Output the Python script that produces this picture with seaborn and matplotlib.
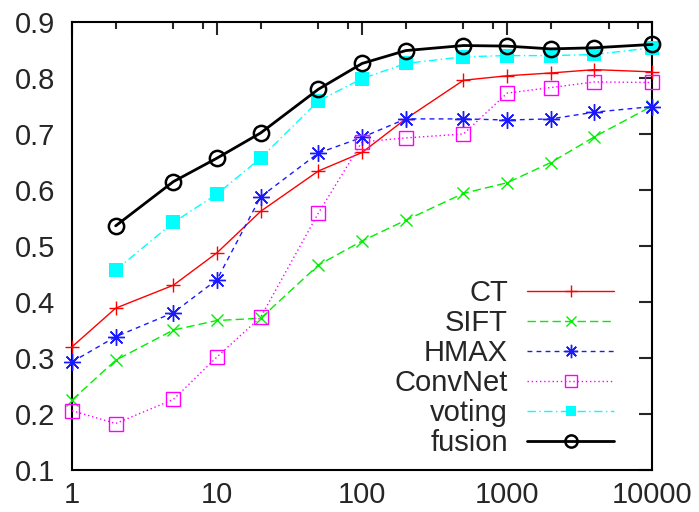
import matplotlib
matplotlib.use("Agg")
import matplotlib.pyplot as plt
import seaborn as sns
from matplotlib.ticker import LogLocator, NullFormatter, FixedLocator, FixedFormatter

# Dados
x_all = [1, 2, 5, 10, 20, 50, 100, 200, 500, 1000, 2000, 4000, 10000]
x_comb = [2, 5, 10, 20, 50, 100, 200, 500, 1000, 2000, 4000, 10000]

ct = [0.320, 0.389, 0.430, 0.488, 0.562, 0.634, 0.667, 0.727, 0.796, 0.804, 0.809, 0.815, 0.811]
sift = [0.225, 0.296, 0.350, 0.367, 0.371, 0.466, 0.509, 0.546, 0.594, 0.613, 0.649, 0.695, 0.750]
hmax = [0.293, 0.338, 0.381, 0.440, 0.588, 0.666, 0.694, 0.727, 0.727, 0.725, 0.727, 0.739, 0.749]
convnet = [0.206, 0.183, 0.226, 0.302, 0.373, 0.559, 0.686, 0.693, 0.700, 0.773, 0.783, 0.793, 0.792]
voting = [0.457, 0.542, 0.593, 0.657, 0.759, 0.799, 0.826, 0.838, 0.840, 0.840, 0.842, 0.854]
fusion = [0.536, 0.615, 0.657, 0.702, 0.780, 0.826, 0.849, 0.858, 0.857, 0.852, 0.854, 0.860]

# Configurações iniciais
sns.set_style("white")
plt.rcParams["font.family"] = ["Liberation Sans", "DejaVu Sans"]
plt.rcParams["font.size"] = 21

fig = plt.figure(figsize=(6.99, 5.12), dpi=100)
ax = fig.add_axes([0.103, 0.082, 0.830, 0.875])

series = [
    ("CT", x_all, ct, dict(color="#ff0000", linestyle="-", lw=1.0, marker="+", ms=10, mew=1.0,
                           mec="#ff0000")),
    ("SIFT", x_all, sift, dict(color="#00ee00", linestyle=(0, (6, 3)), lw=1.0, marker="x", ms=9, mew=1.0,
                               mec="#00ee00")),
    ("HMAX", x_all, hmax, dict(color="#1a1aff", linestyle=(0, (3.5, 3)), lw=1.0, marker=(8, 2, 0), ms=12,
                               mew=1.0, mec="#1a1aff")),
    ("ConvNet", x_all, convnet, dict(color="#ff00ff", linestyle=(0, (1, 2)), lw=1.0, marker="s", ms=10,
                                     mew=1.0, mec="#ff00ff", mfc="none")),
    ("voting", x_comb, voting, dict(color="#00ffff", linestyle=(0, (6, 2.5, 1, 2.5)), lw=1.0, marker="s",
                                    ms=9.5, mew=0, mec="#00ffff", mfc="#00ffff")),
    ("fusion", x_comb, fusion, dict(color="black", linestyle="-", lw=2.0, marker="o", ms=11, mew=1.8,
                                    mec="black", mfc="none")),
]

for nome, xs, ys, estilo in series:
    sns.lineplot(x=xs, y=ys, ax=ax, label=nome, clip_on=False, zorder=3, **estilo)

ax.set_xscale("log")
ax.set_xlim(1, 10000)
ax.set_ylim(0.1, 0.9)

ax.xaxis.set_major_locator(FixedLocator([1, 10, 100, 1000, 10000]))
ax.xaxis.set_major_formatter(FixedFormatter(["1", "10", "100", "1000", "10000"]))
ax.xaxis.set_minor_locator(LogLocator(base=10, subs=[2, 5, 8]))
ax.xaxis.set_minor_formatter(NullFormatter())
ax.set_yticks([0.1, 0.2, 0.3, 0.4, 0.5, 0.6, 0.7, 0.8, 0.9])
ax.set_yticklabels(["0.1", "0.2", "0.3", "0.4", "0.5", "0.6", "0.7", "0.8", "0.9"])

ax.tick_params(which="both", direction="in", top=True, right=True, width=1.5, labelsize=21)
ax.tick_params(which="major", length=9.5)
ax.tick_params(axis="x", which="major", pad=8)
ax.tick_params(axis="y", which="major", pad=12)
ax.tick_params(which="minor", length=5)
for s in ax.spines.values():
    s.set_linewidth(1.5)
    s.set_color("black")

ax.set_xlabel("")
ax.set_ylabel("")

leg = ax.legend(loc="lower right", bbox_to_anchor=(0.955, 0.003), markerfirst=False, frameon=False,
                fontsize=21, handlelength=3.0, handletextpad=0.65, labelspacing=0.07, borderaxespad=0,
                markerscale=0.8)

plt.savefig("out.png", dpi=100)
plt.close()
